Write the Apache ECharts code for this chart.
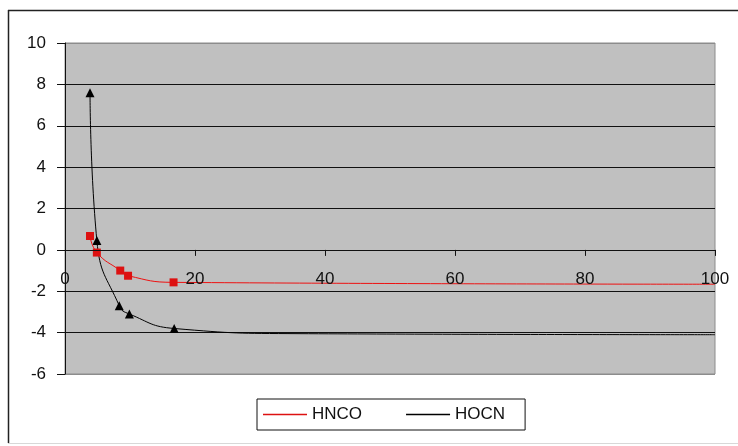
<!DOCTYPE html>
<html>
<head>
<meta charset="utf-8">
<script src="https://cdn.jsdelivr.net/npm/echarts@6/dist/echarts.min.js"></script>
<style>
  html, body { margin: 0; padding: 0; background: #fff; }
  #chart { width: 738px; height: 446px; }
</style>
</head>
<body>
<div id="chart"></div>
<script>
// Series values (x, y pairs per compound)
const hncoX = [3.85, 4.9, 8.5, 9.7, 16.7, 100];
const hncoY = [0.67, -0.13, -1.0, -1.25, -1.57, -1.66];
const hocnX = [3.85, 4.9, 8.35, 9.9, 16.8, 36, 100];
const hocnY = [7.6, 0.45, -2.7, -3.1, -3.8, -4.05, -4.1];
const seriesNames = ['HNCO', 'HOCN'];

// Axis ranges and tick spacing
const xMin = 0, xMax = 100, xStep = 20;
const yMin = -6, yMax = 10, yStep = 2;

// Only the first points are measured; the rest is the long-range tail
const measuredCount = 5;

const FONT = 'Liberation Sans, Arial, sans-serif';

function pairs(xs, ys) {
  return xs.map((x, i) => ({
    value: [x, ys[i]],
    symbol: i < measuredCount ? undefined : 'none'
  }));
}

// Split line colours: plot edges grey, inner lines black
const nTicks = Math.round((yMax - yMin) / yStep) + 1;
const splitColors = [];
for (let i = 0; i < nTicks; i++) {
  splitColors.push(i === 0 || i === nTicks - 1 ? '#8c8c8c' : '#111');
}

const chart = echarts.init(document.getElementById('chart'), null, { renderer: 'canvas' });

chart.setOption({
  animation: false,
  backgroundColor: '#fff',
  textStyle: { fontFamily: FONT },
  grid: {
    left: 65, right: 23, top: 43, bottom: 72,
    show: true,
    backgroundColor: '#c0c0c0',
    borderColor: '#8c8c8c',
    borderWidth: 1
  },
  graphic: [
    { type: 'line', shape: { x1: 8, y1: 10.5, x2: 738, y2: 10.5 }, style: { stroke: '#222', lineWidth: 1.5 } },
    { type: 'line', shape: { x1: 8.5, y1: 10, x2: 8.5, y2: 443 }, style: { stroke: '#222', lineWidth: 1.5 } },
    { type: 'line', shape: { x1: 8, y1: 443.5, x2: 738, y2: 443.5 }, style: { stroke: '#d8d8d8', lineWidth: 1 } }
  ],
  legend: {
    left: 257, top: 399,
    orient: 'horizontal',
    backgroundColor: '#fff',
    borderColor: '#111',
    borderWidth: 1,
    padding: [7, 20, 7, 6],
    itemGap: 44,
    itemWidth: 44,
    itemHeight: 1.5,
    icon: 'rect',
    textStyle: { fontFamily: FONT, fontSize: 17, color: '#111' },
    data: seriesNames
  },
  xAxis: {
    type: 'value',
    min: xMin, max: xMax, interval: xStep,
    axisLine: { show: true, onZero: false, lineStyle: { color: '#111', width: 1 } },
    axisTick: { show: true, length: 6, lineStyle: { color: '#111' } },
    axisLabel: { margin: 21, fontSize: 17, color: '#111', fontFamily: FONT },
    splitLine: { show: false },
    z: 5
  },
  yAxis: {
    type: 'value',
    min: yMin, max: yMax, interval: yStep,
    axisLine: { show: true, onZero: false, lineStyle: { color: '#111', width: 1 } },
    axisTick: { show: true, length: 8, lineStyle: { color: '#111' } },
    axisLabel: { margin: 19, fontSize: 17, color: '#111', fontFamily: FONT },
    splitLine: { show: true, lineStyle: { color: splitColors, width: 1 } }
  },
  series: [
    {
      name: seriesNames[0],
      type: 'line',
      data: pairs(hncoX, hncoY),
      smooth: 0.5,
      symbol: 'rect',
      symbolSize: 8,
      color: '#ee1111',
      lineStyle: { color: '#ee1111', width: 1 },
      itemStyle: { color: '#dd1111' },
      z: 3
    },
    {
      name: seriesNames[1],
      type: 'line',
      data: pairs(hocnX, hocnY),
      smooth: 0.5,
      symbol: 'triangle',
      symbolSize: 9,
      color: '#000',
      lineStyle: { color: '#000', width: 1 },
      itemStyle: { color: '#000' },
      z: 2
    }
  ]
});

// Let the x axis cross the value axis at y = 0
const yZero = chart.convertToPixel({ yAxisIndex: 0 }, 0);
const yBottom = chart.convertToPixel({ yAxisIndex: 0 }, yMin);
chart.setOption({ xAxis: { offset: -(yBottom - yZero) } });
</script>
</body>
</html>
